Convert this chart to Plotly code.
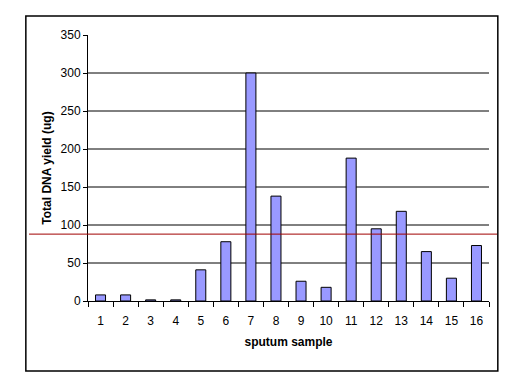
import plotly.graph_objects as go

samples = [str(i) for i in range(1, 17)]
dna_yield = [8, 8, 1.5, 1.5, 41, 78, 300, 138, 26, 18, 188, 95, 118, 65, 30, 73]
threshold = 88
y_ticks = [0, 50, 100, 150, 200, 250, 300, 350]
grid_values = [50, 100, 150, 200, 250, 300]

fig = go.Figure()
fig.add_trace(go.Bar(
    x=samples, y=dna_yield,
    marker=dict(color="#9999FF", line=dict(color="black", width=1)),
    showlegend=False,
))

shapes = []
for g in grid_values:
    shapes.append(dict(type="line", xref="paper", yref="y", x0=0, x1=1, y0=g, y1=g,
                       line=dict(color="black", width=1), layer="below"))
shapes.append(dict(type="line", xref="paper", yref="y", x0=-0.147, x1=1.02,
                   y0=threshold, y1=threshold, line=dict(color="#A00000", width=1)))
shapes.append(dict(type="rect", xref="paper", yref="paper", x0=-0.155, x1=1.022,
                   y0=-0.263, y1=1.071, line=dict(color="black", width=1.5)))

fig.update_layout(
    width=516, height=378,
    margin=dict(l=88, r=27, t=35, b=77),
    paper_bgcolor="white", plot_bgcolor="white",
    font=dict(family="Liberation Sans, Arial, sans-serif", size=12, color="black"),
    bargap=0.6,
    shapes=shapes,
    xaxis=dict(
        type="category", tickson="boundaries", ticks="outside", ticklen=5,
        tickcolor="black", showline=True, linecolor="black", linewidth=1,
        showgrid=False, ticklabelstandoff=9,
        title=dict(text="<b>sputum sample</b>", standoff=10, font=dict(size=12)),
    ),
    yaxis=dict(
        range=[0, 350], tickvals=y_ticks, ticks="outside", ticklen=4,
        tickcolor="black", showline=True, linecolor="black", linewidth=1,
        showgrid=False, zeroline=False, ticklabelstandoff=0,
        title=dict(text="<b>Total DNA yield (ug)</b>", standoff=6, font=dict(size=12)),
    ),
)

fig.write_html("out.html", config={"displayModeBar": False},
               post_script="document.body.style.margin='0';")
